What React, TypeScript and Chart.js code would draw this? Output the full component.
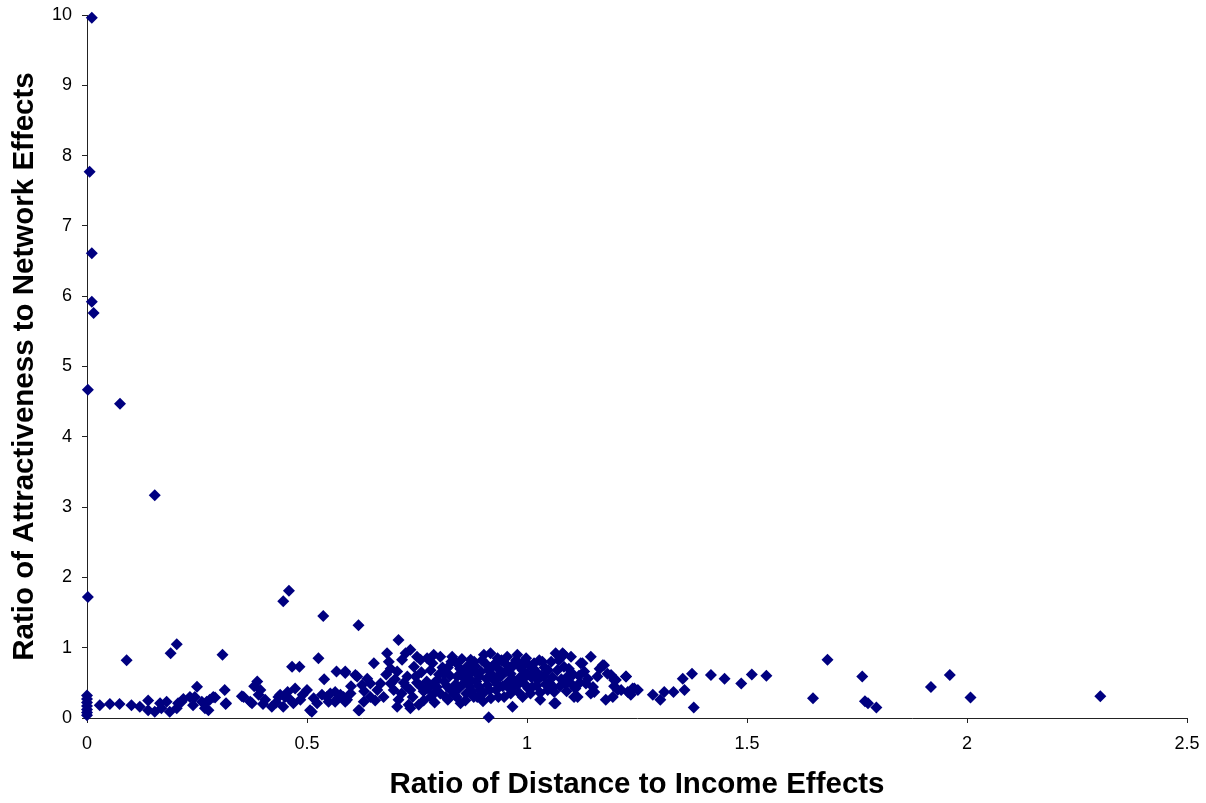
import React, { useEffect, useRef } from "react";
import { Chart, registerables } from "chart.js";

Chart.register(...registerables);

const xTickLabels = ["0", "0.5", "1", "1.5", "2", "2.5"];
const yTickLabels = ["0", "1", "2", "3", "4", "5", "6", "7", "8", "9", "10"];

const xTitle = "Ratio of Distance to Income Effects";
const yTitle = "Ratio of Attractiveness to Network Effects";

// [ratio of distance to income effects, ratio of attractiveness to network effects]
const outliers: [number, number][] = [
  [0.011, 9.96], [0.006, 7.77], [0.011, 6.61], [0.011, 5.92], [0.015, 5.76],
  [0.002, 4.67], [0.075, 4.47], [0.154, 3.17], [0.002, 1.72], [0.446, 1.66],
  [0.459, 1.81], [0.537, 1.45], [0.617, 1.32], [0.708, 1.11],
];

const zeroColumn: [number, number][] = [
  [0, 0.32], [0, 0.27], [0, 0.22], [0, 0.17], [0, 0.12], [0, 0.08], [0, 0.04],
];

const leftCluster: [number, number][] = [
  [0.09, 0.82], [0.19, 0.92], [0.204, 1.05], [0.308, 0.9], [0.25, 0.445], [0.313, 0.4], [0.315, 0.2],
  [0.029, 0.18], [0.052, 0.2], [0.074, 0.2], [0.101, 0.18], [0.12, 0.16], [0.139, 0.11], [0.154, 0.09],
  [0.169, 0.14], [0.188, 0.09], [0.204, 0.14], [0.215, 0.23], [0.234, 0.3], [0.241, 0.18], [0.261, 0.23],
  [0.276, 0.11], [0.139, 0.25], [0.166, 0.21], [0.181, 0.23], [0.207, 0.21], [0.219, 0.27], [0.245, 0.3],
  [0.268, 0.14], [0.279, 0.26], [0.291, 0.29], [0.272, 0.23], [0.287, 0.3], [0.316, 0.21], [0.356, 0.3],
  [0.371, 0.23], [0.387, 0.52], [0.39, 0.33], [0.405, 0.26], [0.42, 0.16], [0.435, 0.3], [0.446, 0.16],
  [0.456, 0.37], [0.462, 0.26], [0.473, 0.42], [0.485, 0.26], [0.5, 0.4], [0.507, 0.11], [0.526, 0.85],
  [0.539, 0.55], [0.549, 0.23], [0.564, 0.37], [0.567, 0.66], [0.466, 0.73], [0.483, 0.73],
  [0.352, 0.31], [0.375, 0.21], [0.394, 0.4], [0.439, 0.33], [0.469, 0.21], [0.511, 0.09], [0.523, 0.21],
  [0.534, 0.33], [0.587, 0.64], [0.576, 0.33], [0.591, 0.26], [0.61, 0.61], [0.38, 0.45], [0.4, 0.2],
  [0.43, 0.22], [0.45, 0.3], [0.49, 0.33], [0.515, 0.28], [0.545, 0.3], [0.57, 0.28],
];

const centralCluster: [number, number][] = [
  [0.587, 0.66], [0.553, 0.35], [0.564, 0.23], [0.583, 0.3], [0.587, 0.23], [0.599, 0.35], [0.614, 0.59],
  [0.625, 0.47], [0.637, 0.56], [0.644, 0.49], [0.652, 0.78], [0.617, 0.11], [0.629, 0.23], [0.644, 0.3],
  [0.667, 0.49], [0.682, 0.92], [0.686, 0.8], [0.674, 0.3], [0.697, 0.4], [0.705, 0.66], [0.708, 0.26],
  [0.716, 0.83], [0.724, 0.92], [0.735, 0.97], [0.743, 0.73], [0.747, 0.59], [0.731, 0.19], [0.754, 0.19],
  [0.75, 0.87], [0.758, 0.83], [0.773, 0.85], [0.781, 0.68], [0.788, 0.9], [0.796, 0.54], [0.803, 0.87],
  [0.811, 0.63], [0.818, 0.45], [0.83, 0.87], [0.841, 0.59], [0.849, 0.21], [0.856, 0.49], [0.872, 0.83],
  [0.879, 0.68], [0.887, 0.3], [0.891, 0.59], [0.69, 0.49], [0.728, 0.59], [0.758, 0.45], [0.781, 0.3],
  [0.803, 0.35], [0.826, 0.4], [0.788, 0.49], [0.705, 0.16], [0.735, 0.14],
  [0.902, 0.9], [0.917, 0.92], [0.933, 0.85], [0.955, 0.87], [0.978, 0.9], [0.993, 0.8], [1.016, 0.78],
  [1.035, 0.8], [1.065, 0.92], [1.084, 0.9], [1.1, 0.87], [1.126, 0.78], [1.145, 0.87], [1.172, 0.75],
  [1.183, 0.63], [1.16, 0.59], [1.198, 0.54], [1.206, 0.4], [1.179, 0.26], [1.145, 0.35], [1.115, 0.3],
  [1.134, 0.49], [1.062, 0.37], [1.065, 0.21], [0.963, 0.35], [0.967, 0.16], [0.913, 0.01], [0.872, 0.54],
  [0.887, 0.63], [0.879, 0.3], [0.895, 0.4], [0.925, 0.54], [0.94, 0.59], [0.948, 0.3], [0.986, 0.59],
  [1.001, 0.63], [1.024, 0.54], [1.039, 0.59], [1.047, 0.4], [1.008, 0.35], [1.069, 0.68], [1.092, 0.59],
  [1.1, 0.49], [1.084, 0.73], [0.921, 0.73], [0.963, 0.63], [0.619, 0.11], [1.062, 0.21],
  [1.081, 0.92], [1.122, 0.78], [1.175, 0.75], [1.225, 0.59], [1.244, 0.42], [1.107, 0.3], [1.153, 0.37],
  [0.765, 0.38], [0.772, 0.52], [0.79, 0.36], [0.8, 0.62], [0.815, 0.3], [0.82, 0.72], [0.835, 0.33],
  [0.84, 0.78], [0.845, 0.42], [0.855, 0.65], [0.862, 0.35], [0.865, 0.74], [0.87, 0.45], [0.88, 0.8],
  [0.885, 0.52], [0.895, 0.66], [0.9, 0.35], [0.905, 0.78], [0.91, 0.47], [0.918, 0.28], [0.92, 0.62],
  [0.93, 0.4], [0.935, 0.7], [0.945, 0.45], [0.95, 0.78], [0.958, 0.52], [0.965, 0.72], [0.97, 0.44],
  [0.975, 0.82], [0.982, 0.36], [0.99, 0.68], [0.995, 0.48], [1.005, 0.75], [1.012, 0.44], [1.02, 0.66],
  [1.03, 0.36], [1.04, 0.72], [1.05, 0.5], [1.055, 0.8], [1.075, 0.45], [1.09, 0.38], [1.105, 0.62],
  [1.12, 0.5], [1.13, 0.66], [1.15, 0.44], [1.165, 0.7], [0.66, 0.4], [0.68, 0.62], [0.7, 0.55],
  [0.715, 0.35], [0.725, 0.45], [0.74, 0.3], [0.655, 0.25], [0.6, 0.45], [0.63, 0.38],
  [0.76, 0.65], [0.775, 0.42], [0.785, 0.78], [0.795, 0.44], [0.808, 0.72], [0.812, 0.52], [0.825, 0.6],
  [0.828, 0.8], [0.838, 0.48], [0.848, 0.7], [0.852, 0.84], [0.858, 0.56], [0.868, 0.62], [0.875, 0.38],
  [0.882, 0.74], [0.89, 0.45], [0.898, 0.82], [0.908, 0.56], [0.912, 0.68], [0.915, 0.4], [0.928, 0.78],
  [0.932, 0.48], [0.938, 0.62], [0.942, 0.82], [0.952, 0.66], [0.96, 0.42], [0.968, 0.55], [0.972, 0.78],
  [0.98, 0.48], [0.985, 0.72], [0.992, 0.56], [0.998, 0.85], [1.003, 0.42], [1.01, 0.58], [1.015, 0.7],
  [1.022, 0.46], [1.028, 0.82], [1.033, 0.6], [1.042, 0.48], [1.048, 0.68], [1.058, 0.58], [1.06, 0.44],
  [1.072, 0.82], [1.078, 0.55], [1.088, 0.48], [1.095, 0.7], [1.11, 0.42], [1.118, 0.6], [1.138, 0.56],
  [0.765, 0.25], [0.79, 0.22], [0.82, 0.26], [0.84, 0.3], [0.86, 0.25], [0.9, 0.24], [0.935, 0.3],
  [0.99, 0.3], [1.03, 0.26], [0.69, 0.7], [0.72, 0.5], [0.735, 0.4], [0.75, 0.5],
];

const rightTail: [number, number][] = [
  [1.191, 0.61], [1.202, 0.54], [1.225, 0.59], [1.198, 0.45], [1.214, 0.4], [1.229, 0.37], [1.24, 0.42],
  [1.252, 0.4], [1.236, 0.33], [1.195, 0.3], [1.286, 0.33], [1.303, 0.26], [1.312, 0.37], [1.333, 0.37],
  [1.358, 0.4], [1.354, 0.56], [1.375, 0.63], [1.379, 0.15], [1.418, 0.61], [1.449, 0.56], [1.487, 0.49],
  [1.511, 0.62], [1.544, 0.6], [1.65, 0.28], [1.683, 0.83], [1.762, 0.59], [1.768, 0.24], [1.775, 0.21],
  [1.794, 0.15], [1.918, 0.44], [1.961, 0.61], [2.008, 0.29], [2.303, 0.31],
];

const allPoints = [...outliers, ...zeroColumn, ...leftCluster, ...centralCluster, ...rightTail];

export default function App() {
  const canvasRef = useRef<HTMLCanvasElement | null>(null);

  useEffect(() => {
    document.body.style.margin = "0";
    const canvas = canvasRef.current;
    if (!canvas) return;
    const axisColor = "#222";
    const fam = "Arial, 'Liberation Sans', sans-serif";
    const chart = new Chart(canvas, {
      type: "scatter",
      data: {
        datasets: [
          {
            data: allPoints.map(([x, y]) => ({ x, y })),
            pointStyle: "rectRot",
            pointRadius: 6,
            pointHoverRadius: 6,
            backgroundColor: "#000080",
            borderColor: "#000080",
            borderWidth: 0,
            clip: false,
          } as any,
        ],
      },
      options: {
        animation: false,
        responsive: false,
        maintainAspectRatio: false,
        layout: { padding: { top: 15, right: 19, bottom: 0, left: 0 } },
        plugins: { legend: { display: false }, tooltip: { enabled: false } },
        scales: {
          x: {
            type: "linear",
            min: 0,
            max: 2.5,
            afterFit: (scale: any) => {
              scale.height = 85;
              scale.paddingLeft = 0;
              scale.paddingRight = 0;
            },
            afterBuildTicks: (scale: any) => {
              scale.ticks = xTickLabels.map((t) => ({ value: parseFloat(t) }));
            },
            ticks: {
              color: "#000",
              font: { family: fam, size: 18 },
              padding: 10,
              maxRotation: 0,
              callback: (v: any) => xTickLabels.find((t) => parseFloat(t) === v) ?? "",
            },
            grid: { display: true, drawOnChartArea: false, drawTicks: true, tickLength: 5, color: axisColor },
            border: { display: true, color: axisColor, width: 1 },
            title: {
              display: true,
              text: xTitle,
              color: "#000",
              font: { family: fam, size: 29.5, weight: "bold" },
              padding: { top: 0, bottom: 0 },
            },
          },
          y: {
            type: "linear",
            min: 0,
            max: 10,
            afterFit: (scale: any) => {
              scale.width = 87;
              scale.paddingTop = 0;
              scale.paddingBottom = 0;
            },
            afterBuildTicks: (scale: any) => {
              scale.ticks = yTickLabels.map((t) => ({ value: parseFloat(t) }));
            },
            ticks: {
              color: "#000",
              font: { family: fam, size: 18 },
              padding: 10,
              callback: (v: any) => yTickLabels.find((t) => parseFloat(t) === v) ?? "",
            },
            grid: { display: true, drawOnChartArea: false, drawTicks: true, tickLength: 5, color: axisColor },
            border: { display: true, color: axisColor, width: 1 },
            title: {
              display: true,
              text: yTitle,
              color: "#000",
              font: { family: fam, size: 29.5, weight: "bold" },
              padding: { top: 7, bottom: 0 },
            },
          },
        },
      },
    });
    return () => chart.destroy();
  }, []);

  return (
    <div style={{ position: "absolute", left: 0, top: 0, width: 1206, height: 803, background: "#fff" }}>
      <canvas ref={canvasRef} width={1206} height={803} style={{ width: 1206, height: 803 }} />
    </div>
  );
}
